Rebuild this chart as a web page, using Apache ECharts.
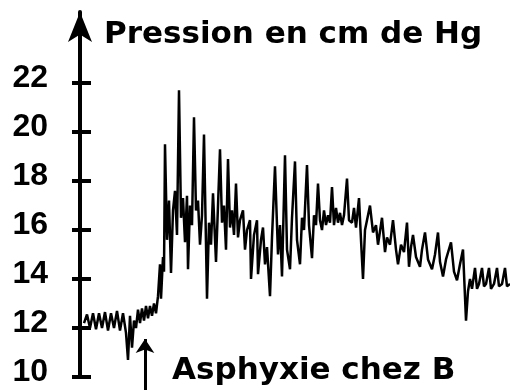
<!DOCTYPE html>
<html>
<head>
<meta charset="utf-8">
<script src="https://cdn.jsdelivr.net/npm/echarts@6/dist/echarts.min.js"></script>
<style>html,body{margin:0;padding:0;background:#fff;}#c{width:510px;height:390px;}</style>
</head>
<body>
<div id="c"></div>
<script>
const yTitle = 'Pression en cm de Hg';
const noteText = 'Asphyxie chez B';
const yTicks = [10, 12, 14, 16, 18, 20, 22];
const times = [4,7,10,13,16,19,22,25,28,31,34,37,40,43,46,48,50,52,54,56,58,60,62,64,66,68,70,72,74,76,78,80,81,83,84,85,87,89,91,93,95,97,99,101,103,105,107,108,110,112,114,116,118,120,122,124,127,129,131,133,136,140,142,144,146,148,150,152,154,156,158,160,163,165,167,170,171,174,177,178,181,183,185,187,190,192,195,198,200,202,205,207,210,212,215,217,220,222,224,227,229,232,234,236,238,240,242,244,246,248,250,252,254,256,258,260,262,264,267,269,272,274,276,279,281,283,285,287,290,293,296,298,302,305,307,310,313,316,318,321,324,327,329,331,333,336,340,342,345,348,352,355,358,360,363,366,371,374,377,380,383,386,388,390,392,395,397,399,402,404,406,409,411,414,417,419,422,425,427,430];
const pressure = [12.2,12.55,12.0,12.6,11.95,12.6,12.0,12.65,11.9,12.6,
12.0,12.7,11.9,12.6,11.8,10.7,12.5,11.2,12.3,12.0,
12.75,12.2,12.8,12.3,12.9,12.4,12.9,12.5,13.0,12.6,
13.3,14.6,13.2,14.9,14.3,19.5,15.6,17.2,14.25,16.8,
17.6,15.8,21.7,16.5,17.3,15.5,17.4,14.4,17.0,16.2,
20.6,16.8,17.2,15.4,16.6,19.9,13.2,16.3,15.4,17.5,
14.7,19.3,16.3,17.0,15.2,18.9,16.1,16.8,15.8,17.9,
15.7,16.4,16.8,15.2,16.0,16.4,14.0,15.8,16.4,14.2,
15.6,16.1,14.6,15.3,13.3,15.7,18.6,15.0,16.2,14.1,
19.05,15.2,14.4,16.5,18.8,15.6,14.6,16.5,16.0,18.65,
16.2,14.85,16.6,16.2,17.9,16.4,16.0,16.8,16.2,16.6,
16.3,17.75,16.2,16.9,16.3,16.7,16.2,16.6,18.1,16.4,
16.3,16.9,16.1,17.3,15.6,14.0,16.0,16.4,17.0,15.9,
16.2,15.4,16.5,15.1,15.7,15.4,16.4,15.2,14.6,15.4,
15.1,16.3,14.5,15.3,15.8,14.9,14.5,15.2,15.9,14.8,
14.4,15.0,15.9,14.7,14.1,14.8,15.5,14.3,13.95,14.6,
15.2,12.3,13.5,14.0,13.6,14.45,13.6,13.8,14.45,13.7,
13.8,14.45,13.6,13.8,14.45,13.7,13.8,14.45,13.7,13.8];
// asphyxia onset marker: time and pressure span of the arrow
const onsetTime = 65;
const onsetArrow = [9.3, 11.55];

const yMin = 10, yMax = 24.9;
const chart = echarts.init(document.getElementById('c'), null, {renderer: 'canvas'});
const seriesData = times.map((t, i) => [t, pressure[i]]);

chart.setOption({
  animation: false,
  backgroundColor: '#fff',
  title: [
    {text: yTitle, left: 99, top: 14,
     textStyle: {fontFamily: 'DejaVu Sans', fontWeight: 'bold', fontSize: 31, color: '#000'}},
    {text: noteText, left: 167, top: 350,
     textStyle: {fontFamily: 'DejaVu Sans', fontWeight: 'bold', fontSize: 31, color: '#000'}}
  ],
  grid: {left: 80, right: 0, top: 12, bottom: 13, containLabel: false},
  xAxis: {type: 'value', min: 0, max: 430, show: false},
  yAxis: [
    {type: 'value', position: 'left', min: yMin, max: yMax,
     axisLine: {show: true, lineStyle: {color: '#000', width: 4}, symbol: ['none', 'arrow'], symbolSize: [18, 30]},
     axisTick: {show: true, inside: true, length: 11, customValues: yTicks, lineStyle: {color: '#000', width: 4}},
     axisLabel: {show: true, customValues: yTicks, margin: 32, color: '#000',
       fontFamily: 'Liberation Sans', fontWeight: 'bold', fontSize: 32,
       verticalAlign: 'bottom', lineHeight: 10},
     splitLine: {show: false}},
    {type: 'value', position: 'left', min: yMin, max: yMax,
     axisLine: {show: false},
     axisTick: {show: true, inside: false, length: 8, customValues: yTicks, lineStyle: {color: '#000', width: 4}},
     axisLabel: {show: false},
     splitLine: {show: false}}
  ],
  series: [
    {type: 'line', data: seriesData, showSymbol: false, symbol: 'none',
     lineStyle: {color: '#000', width: 2.5}, z: 3},
    {type: 'lines', coordinateSystem: 'cartesian2d', clip: false,
     data: [{coords: [[onsetTime, onsetArrow[0]], [onsetTime, onsetArrow[1]]]}],
     symbol: ['none', 'arrow'], symbolSize: [11, 14],
     lineStyle: {color: '#000', width: 3, opacity: 1}, z: 4}
  ]
});
</script>
</body>
</html>
